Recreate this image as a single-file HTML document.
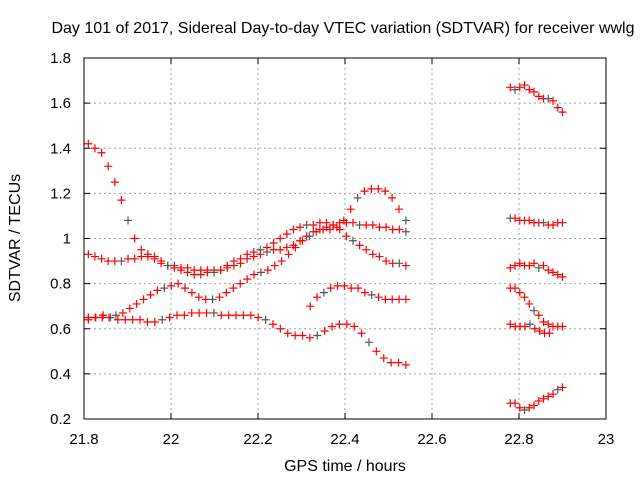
<!DOCTYPE html>
<html><head><meta charset="utf-8"><style>
body{margin:0;background:#fff}
svg{display:block;font-family:"Liberation Sans",sans-serif}
</style></head><body>
<svg id="chart" width="640" height="480">
<rect width="640" height="480" fill="#fff"/>
<text x="343" y="33" font-size="16" text-anchor="middle">Day 101 of 2017, Sidereal Day-to-day VTEC variation (SDTVAR) for receiver wwlg</text>
<text x="345" y="471" font-size="16" text-anchor="middle">GPS time / hours</text>
<text transform="translate(20,238) rotate(-90)" font-size="16" text-anchor="middle">SDTVAR / TECUs</text>
<g id="grid"></g><g id="ticks"></g><g id="marks"></g>
<rect x="84" y="58" width="522" height="361" fill="none" stroke="#000" stroke-width="1"/>
</svg>
<script>
const xTicks=[21.8,22,22.2,22.4,22.6,22.8,23];
const xTickLabels=["21.8","22","22.2","22.4","22.6","22.8","23"];
const yTicks=[0.2,0.4,0.6,0.8,1.0,1.2,1.4,1.6,1.8];
const yTickLabels=["0.2","0.4","0.6","0.8","1","1.2","1.4","1.6","1.8"];
const s1=[1.42,1.40,1.38,1.32,1.25,1.17,1.08,1.00,0.95,0.92,0.91,0.89,0.88,0.88,0.87,0.87,0.86,0.86,0.86,0.86,0.86,0.87,0.88,0.89,0.91,0.92,0.93,0.94,0.95,0.95,0.96,0.97,0.99,1.01,1.03,1.04,1.05,1.06,1.07,1.07,1.07,1.06,1.06,1.06,1.05,1.05,1.04,1.04,1.03];
const s2=[0.93,0.92,0.91,0.90,0.90,0.90,0.91,0.91,0.92,0.93,0.92,0.90,0.88,0.87,0.86,0.85,0.84,0.84,0.85,0.85,0.86,0.88,0.90,0.91,0.93,0.94,0.95,0.96,0.98,1.00,1.02,1.04,1.05,1.06,1.06,1.07,1.07,1.06,1.04,1.01,0.99,0.97,0.95,0.93,0.92,0.90,0.89,0.89,0.88];
const s3=[0.64,0.65,0.65,0.65,0.66,0.67,0.69,0.71,0.73,0.75,0.77,0.78,0.79,0.80,0.78,0.76,0.74,0.73,0.73,0.74,0.76,0.78,0.80,0.82,0.84,0.85,0.86,0.88,0.90,0.93,0.96,0.99,1.01,1.03,1.04,1.04,1.05,1.08,1.13,1.18,1.21,1.22,1.22,1.21,1.18,1.13,1.08];
const s4=[0.65,0.65,0.66,0.65,0.64,0.64,0.64,0.64,0.63,0.63,0.64,0.65,0.66,0.66,0.67,0.67,0.67,0.67,0.66,0.66,0.66,0.66,0.66,0.65,0.64,0.62,0.60,0.58,0.57,0.57,0.56,0.57,0.59,0.61,0.62,0.62,0.61,0.58,0.54,0.50,0.47,0.45,0.45,0.44];
const s5=[0.70,0.74,0.76,0.78,0.79,0.79,0.78,0.78,0.76,0.75,0.74,0.73,0.73,0.73,0.73];
const t1=[1.67,1.66,1.67,1.68,1.66,1.65,1.63,1.62,1.62,1.61,1.58,1.56];
const t2=[1.09,1.09,1.08,1.08,1.08,1.07,1.07,1.07,1.06,1.06,1.07,1.07];
const t3=[0.87,0.88,0.89,0.88,0.88,0.89,0.87,0.88,0.86,0.85,0.84,0.83];
const t4=[0.78,0.78,0.76,0.74,0.71,0.68,0.66,0.63,0.62,0.61,0.61,0.61];
const t5=[0.62,0.61,0.61,0.61,0.62,0.60,0.59,0.58,0.58];
const t6=[0.27,0.27,0.25,0.24,0.25,0.26,0.28,0.29,0.30,0.31,0.33,0.34];
const seriesStart=[21.81,21.81,21.81,21.81,22.32,22.78,22.78,22.78,22.78,22.78,22.78];
const seriesEnd=[22.54,22.54,22.54,22.54,22.54,22.90,22.90,22.90,22.90,22.87,22.90];
const allSeries=[s1,s2,s3,s4,s5,t1,t2,t3,t4,t5,t6];
const X=h=>84+(h-21.8)*522/1.2;
const Y=v=>419-(v-0.2)*361/1.6;
const NS="http://www.w3.org/2000/svg";
function mk(tag,attrs,parent){const e=document.createElementNS(NS,tag);for(const k in attrs)e.setAttribute(k,attrs[k]);parent.appendChild(e);return e;}
const grid=document.getElementById('grid'),ticks=document.getElementById('ticks'),marks=document.getElementById('marks');
xTicks.forEach((t,i)=>{const x=X(t);
 if(i>0&&i<xTicks.length-1){const g=mk('line',{x1:x,x2:x,y1:58,y2:419,stroke:'#a0a0a0','stroke-dasharray':'2,3'},grid);
 
 }
 mk('line',{x1:x,x2:x,y1:419,y2:413,stroke:'#000'},ticks);mk('line',{x1:x,x2:x,y1:58,y2:64,stroke:'#000'},ticks);
 const l=mk('text',{x:x,y:444,'font-size':15,'text-anchor':'middle'},ticks);l.textContent=xTickLabels[i];
 
 });
yTicks.forEach((t,i)=>{const y=Y(t);
 if(i>0&&i<yTicks.length-1){const g=mk('line',{x1:84,x2:606,y1:y,y2:y,stroke:'#a0a0a0','stroke-dasharray':'2,3'},grid);
 
 }
 mk('line',{x1:84,x2:90,y1:y,y2:y,stroke:'#000'},ticks);mk('line',{x1:606,x2:600,y1:y,y2:y,stroke:'#000'},ticks);
 const l=mk('text',{x:71,y:y+5,'font-size':15,'text-anchor':'end'},ticks);l.textContent=yTickLabels[i];
 
 });
allSeries.forEach((s,k)=>{const t0=seriesStart[k],t1e=seriesEnd[k],n=s.length;
 s.forEach((v,i)=>{const h=t0+(n>1?(t1e-t0)*i/(n-1):0);const x=X(h),y=Y(v);
  const p=mk('path',{d:`M${x-4},${y}h8M${x},${y-4}v8`,stroke:((i+k)%7==6)?'#555':'#f00','stroke-width':1.2,fill:'none'},marks);
  
  });});
</script>
</body></html>
